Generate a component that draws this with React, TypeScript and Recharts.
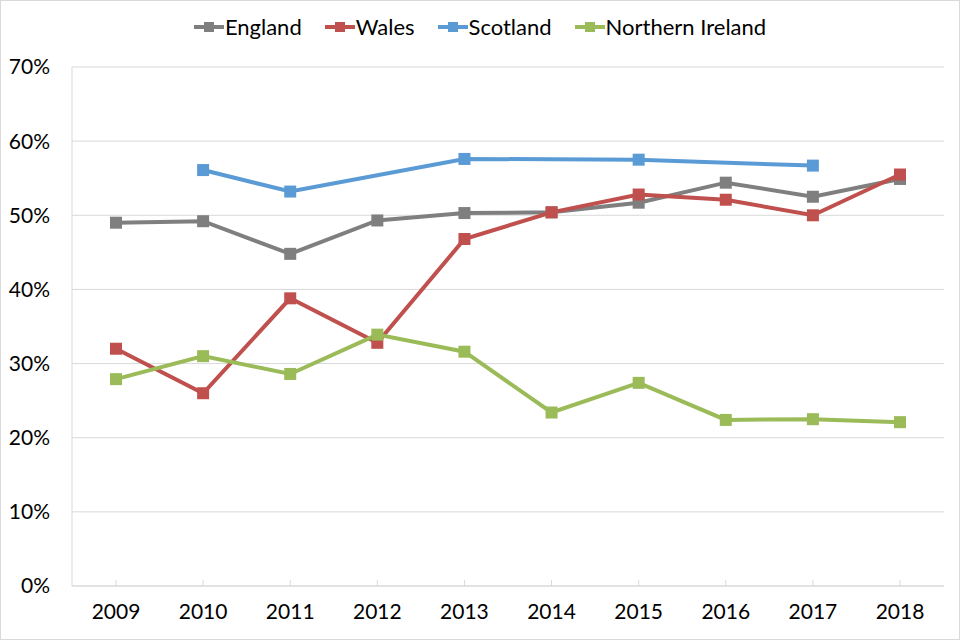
import React from "react";
import { CartesianGrid, Line, LineChart, XAxis, YAxis } from "recharts";

const years = ["2009", "2010", "2011", "2012", "2013", "2014", "2015", "2016", "2017", "2018"];
const england = [49.0, 49.2, 44.8, 49.3, 50.3, 50.4, 51.7, 54.4, 52.5, 54.9];
const wales = [32.0, 26.0, 38.8, 32.8, 46.8, 50.4, 52.8, 52.1, 50.0, 55.5];
const scotland = [null, 56.1, 53.2, null, 57.6, null, 57.5, null, 56.7, null];
const northernIreland = [27.9, 31.0, 28.6, 33.9, 31.6, 23.4, 27.4, 22.4, 22.5, 22.1];
const yTicks = [0, 10, 20, 30, 40, 50, 60, 70];

const series = [
  { key: "england", name: "England", color: "#7f7f7f" },
  { key: "wales", name: "Wales", color: "#c0504d" },
  { key: "scotland", name: "Scotland", color: "#5b9bd5" },
  { key: "northernIreland", name: "Northern Ireland", color: "#9bbb59" },
];

const data = years.map((year, i) => ({
  year,
  england: england[i],
  wales: wales[i],
  scotland: scotland[i],
  northernIreland: northernIreland[i],
}));

const font = "Lato, 'Liberation Sans', sans-serif";
const gridColor = "#d9d9d9";

const squareDot = (name: string, color: string) => (props: any) => {
  const { cx, cy, value, index } = props;
  if (cx == null || cy == null || value == null) return <g key={`${name}-${index}`} />;
  return <rect key={`${name}-${index}`} x={cx - 6} y={cy - 6} width={12} height={12} fill={color} />;
};

const YearTick = (props: any) => {
  const { x, y, payload } = props;
  return (
    <g>
      <line x1={x} x2={x} y1={y - 6} y2={y} stroke={gridColor} />
      <text x={x} y={y + 33} textAnchor="middle" fontSize={21} fill="#000" fontFamily={font}>
        {payload.value}
      </text>
    </g>
  );
};

const ChartLegend: React.FC = () => (
  <div
    style={{
      position: "absolute",
      top: 13,
      left: 0,
      width: 960,
      display: "flex",
      justifyContent: "center",
      gap: 23,
      fontFamily: font,
      fontSize: 22,
      color: "#000",
      lineHeight: "28px",
    }}
  >
    {series.map((s) => (
      <div key={s.key} style={{ display: "flex", alignItems: "center" }}>
        <svg width={30} height={14} style={{ marginRight: 1 }}>
          <line x1={0} x2={30} y1={7} y2={7} stroke={s.color} strokeWidth={4} />
          <rect x={10} y={2} width={10} height={10} fill={s.color} />
        </svg>
        <span>{s.name}</span>
      </div>
    ))}
  </div>
);

const App: React.FC = () => {
  return (
    <div style={{ position: "absolute", left: 0, top: 0, width: 960, height: 640, background: "#fff" }}>
      <LineChart width={960} height={640} data={data} margin={{ top: 67, right: 16, bottom: 0, left: 0 }}>
        <CartesianGrid vertical={false} stroke={gridColor} />
        <XAxis
          dataKey="year"
          height={54}
          interval={0}
          padding={{ left: 44, right: 44 }}
          axisLine={{ stroke: gridColor }}
          tickLine={false}
          tickSize={0}
          tickMargin={0}
          tick={<YearTick />}
        />
        <YAxis
          domain={[0, 70]}
          ticks={yTicks}
          width={72}
          tickFormatter={(v) => `${v}%`}
          axisLine={{ stroke: gridColor }}
          tickLine={false}
          tickSize={0}
          tickMargin={22}
          tick={{ fontSize: 21, fill: "#000", fontFamily: font }}
        />
        <YAxis
          yAxisId="frame"
          orientation="right"
          domain={[0, 70]}
          width={0}
          tick={false}
          tickLine={false}
          axisLine={{ stroke: gridColor }}
        />
        {series.map((s) => (
          <Line
            key={s.key}
            type="linear"
            dataKey={s.key}
            name={s.name}
            stroke={s.color}
            strokeWidth={4}
            connectNulls
            dot={squareDot(s.key, s.color)}
            activeDot={false}
            isAnimationActive={false}
          />
        ))}
      </LineChart>
      <ChartLegend />
      <div
        style={{
          position: "absolute",
          left: 0,
          top: 0,
          width: 960,
          height: 640,
          boxSizing: "border-box",
          border: `1px solid ${gridColor}`,
          pointerEvents: "none",
        }}
      />
    </div>
  );
};

export default App;
